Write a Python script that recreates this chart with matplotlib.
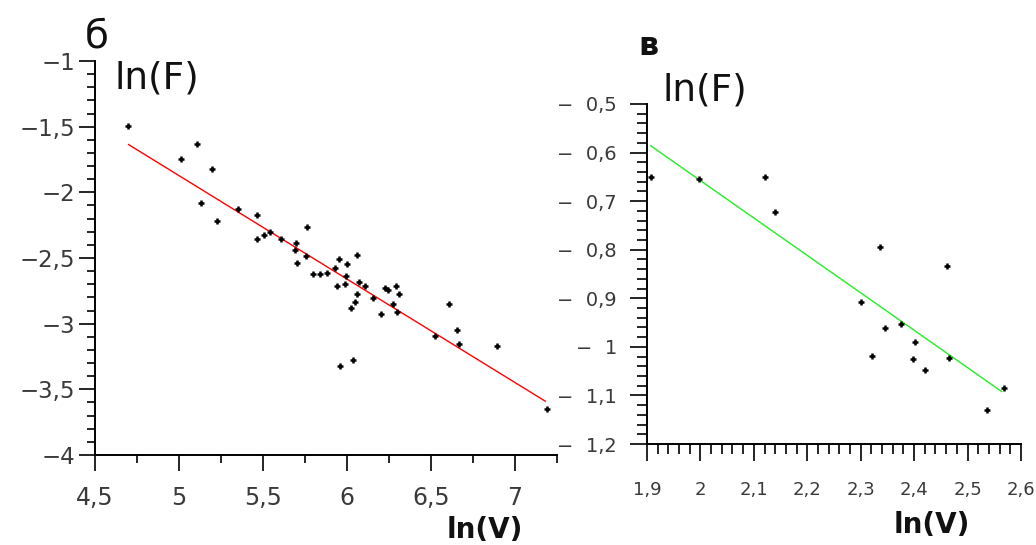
import matplotlib.pyplot as plt
from matplotlib.ticker import MultipleLocator, FuncFormatter

# panel "б": ln(V) vs ln(F) points
lnv_b = [4.699, 5.105, 5.009, 5.199, 5.130, 5.224, 5.353, 5.462, 5.462, 5.503,
         5.540, 5.605, 5.698, 5.690, 5.761, 5.757, 5.952, 6.061, 5.703, 5.795,
         5.842, 5.879, 5.929, 6.000, 5.996, 5.941, 5.986, 6.072, 6.062, 6.109,
         6.154, 6.048, 6.023, 6.201, 6.228, 6.243, 6.290, 6.308, 6.273, 6.298,
         6.524, 6.606, 6.657, 6.667, 6.893, 5.961, 6.035, 7.190]
lnf_b = [-1.491, -1.628, -1.748, -1.824, -2.081, -2.215, -2.129, -2.172, -2.355, -2.325,
         -2.304, -2.355, -2.386, -2.442, -2.264, -2.485, -2.505, -2.475, -2.536, -2.625,
         -2.625, -2.617, -2.579, -2.548, -2.635, -2.714, -2.701, -2.686, -2.777, -2.714,
         -2.808, -2.838, -2.884, -2.927, -2.731, -2.744, -2.714, -2.777, -2.851, -2.914,
         -3.092, -2.851, -3.049, -3.158, -3.171, -3.323, -3.277, -3.650]
fit_b_x = [4.70, 7.18]
fit_b_y = [-1.636, -3.59]

# panel "в"
lnv_v = [1.907, 1.997, 2.120, 2.139, 2.337, 2.461, 2.300, 2.345, 2.375, 2.401,
         2.322, 2.397, 2.420, 2.465, 2.569, 2.536]
lnf_v = [-0.650, -0.655, -0.650, -0.723, -0.794, -0.834, -0.908, -0.962, -0.953, -0.989,
         -1.019, -1.026, -1.048, -1.022, -1.084, -1.129]
fit_v_x = [1.907, 2.564]
fit_v_y = [-0.586, -1.092]

fig = plt.figure(figsize=(10.36, 5.45), dpi=100)
ax1 = fig.add_axes([0.0917, 0.1651, 0.446, 0.7229])
ax2 = fig.add_axes([0.6245, 0.1853, 0.361, 0.6239])

lab_col = "#3a3a3a"


def comma(v, pos):
    s = f"{abs(v):g}".replace(".", ",")
    return ("\u2212" + s) if v < -1e-9 else s


def comma_sp(v, pos):
    return "\u2212  " + f"{abs(v):.1f}".replace(".", ",").replace(",0", "")


for ax in (ax1, ax2):
    ax.spines["top"].set_visible(False)
    ax.spines["right"].set_visible(False)
    ax.spines["left"].set_linewidth(1.4)
    ax.spines["bottom"].set_linewidth(1.4)

# left panel
ax1.plot(fit_b_x, fit_b_y, color="#ff0000", lw=1.0)
ax1.plot(lnv_b, lnf_b, "+", color="k", ms=5, mew=1.8, ls="none")
ax1.set_xlim(4.5, 7.25)
ax1.set_ylim(-4, -1)
ax1.xaxis.set_major_locator(MultipleLocator(0.5))
ax1.xaxis.set_minor_locator(MultipleLocator(0.25))
ax1.yaxis.set_major_locator(MultipleLocator(0.5))
ax1.yaxis.set_minor_locator(MultipleLocator(0.1))
ax1.xaxis.set_major_formatter(FuncFormatter(comma))
ax1.yaxis.set_major_formatter(FuncFormatter(comma))
ax1.tick_params(which="major", length=11.5, width=1.2, labelcolor=lab_col)
ax1.tick_params(which="minor", length=6, width=1.2)
ax1.tick_params(axis="x", which="major", pad=11, labelsize=17)
ax1.tick_params(axis="y", which="major", pad=3, labelsize=16.5)

# right panel
ax2.plot(fit_v_x, fit_v_y, color="#22ee22", lw=1.0)
ax2.plot(lnv_v, lnf_v, "+", color="k", ms=5, mew=1.8, ls="none", clip_on=False)
ax2.set_xlim(1.9, 2.6)
ax2.set_ylim(-1.2, -0.5)
ax2.xaxis.set_major_locator(MultipleLocator(0.1))
ax2.xaxis.set_minor_locator(MultipleLocator(0.02))
ax2.yaxis.set_major_locator(MultipleLocator(0.1))
ax2.yaxis.set_minor_locator(MultipleLocator(0.02))
ax2.xaxis.set_major_formatter(FuncFormatter(comma))
ax2.yaxis.set_major_formatter(FuncFormatter(comma_sp))
ax2.tick_params(which="major", length=12.5, width=1.2, labelcolor=lab_col)
ax2.tick_params(which="minor", length=7, width=1.2)
ax2.tick_params(axis="x", which="major", pad=14, labelsize=13)
ax2.tick_params(axis="y", which="major", pad=9, labelsize=14)

# panel letters and axis names
fig.text(85 / 1036, 1 - 47 / 545, "б", fontsize=28, color="#111111")
fig.text(114 / 1036, 1 - 88 / 545, "ln(F)", fontsize=27, color="#111111")
fig.text(638 / 1036, 1 - 55 / 545, "в", fontsize=23, weight="bold", color="#111111")
fig.text(662 / 1036, 1 - 100 / 545, "ln(F)", fontsize=27, color="#111111")
fig.text(447 / 1036, 1 - 538 / 545, "ln(V)", fontsize=20, weight="bold", color="#111111")
fig.text(894 / 1036, 1 - 533 / 545, "ln(V)", fontsize=20, weight="bold", color="#111111")

fig.savefig("out.png", dpi=100)
